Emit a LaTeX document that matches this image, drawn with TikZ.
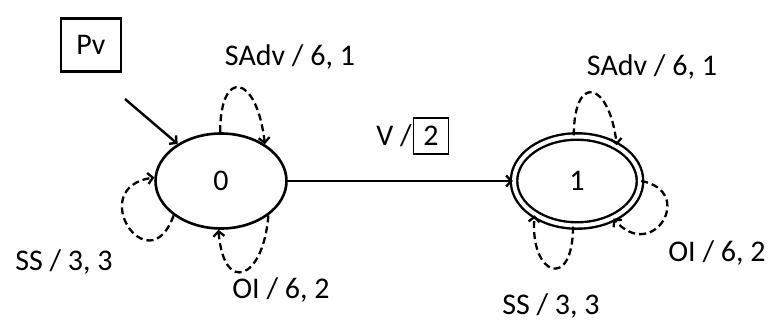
\documentclass[tikz,border=0pt]{standalone}
\usepackage{fontspec}
\setmainfont{Carlito}
\usetikzlibrary{shapes.geometric,arrows.meta,positioning}

\tikzset{
  estado/.style={draw, ellipse, line width=2.6pt, minimum width=131pt, minimum height=95pt, inner sep=0pt},
  final/.style={estado, line width=2.4pt, double, double distance=4pt, minimum width=126pt, minimum height=89pt},
  laco/.style={line width=2.3pt, dash pattern=on 7pt off 4pt, -{Straight Barb[length=5pt,width=11pt]}},
  seta/.style={line width=2.4pt, -{Straight Barb[length=5pt,width=11pt]}},
  rotulo/.style={inner sep=0pt}
}

\begin{document}
\begin{tikzpicture}[x=1pt, y=1pt, font=\fontsize{30}{34}\selectfont]
    \useasboundingbox (0,0) rectangle (774,325);

    % Estados
    \node[estado] (s0) at (221,144) {0};
    \node[final] (s1) at (577,144) {1};

    % Estado inicial
    \node[draw, line width=2.6pt, minimum width=60pt, minimum height=53pt] (pv) at (91,280) {Pv};
    \coordinate (ini) at (125,226);
    \draw[seta] (ini) -- (s0);

    % Transição de 0 para 1
    \draw[seta] (s0) -- (s1);
    \node[rotulo] (vlab) at (394,189) {V /};
    \node[draw, line width=1.3pt, minimum width=35pt, minimum height=36pt, inner sep=0pt, right=1pt of vlab] (saida) {2};

    % Laços do estado 0
    \draw[laco] (s0.91) .. controls +(0,65) and +(-8,70) .. (s0.40);
    \draw[laco] (s0.216) .. controls +(-25,-70) and +(-70,-10) .. (s0.177);
    \draw[laco] (s0.-36) .. controls +(-5,-65) and +(5,-65) .. (s0.-93);

    % Laços do estado 1
    \draw[laco] (s1.94) .. controls +(0,62) and +(-8,65) .. (s1.42);
    \draw[laco] (s1.-95) .. controls +(0,-65) and +(-5,-60) .. (s1.219);
    \draw[laco] (s1.0) .. controls +(55,-10) and +(40,-45) .. (s1.-46);

    % Rótulos dos laços
    \node[rotulo] (sadv0) at (290,268) {SAdv / 6, 1};
    \node[rotulo] (ss0) at (64,63) {SS / 3, 3};
    \node[rotulo] (oi0) at (281,35) {OI / 6, 2};
    \node[rotulo] (sadv1) at (652,258) {SAdv / 6, 1};
    \node[rotulo] (oi1) at (717,72) {OI / 6, 2};
    \node[rotulo] (ss1) at (551,19) {SS / 3, 3};

\end{tikzpicture}
\end{document}
